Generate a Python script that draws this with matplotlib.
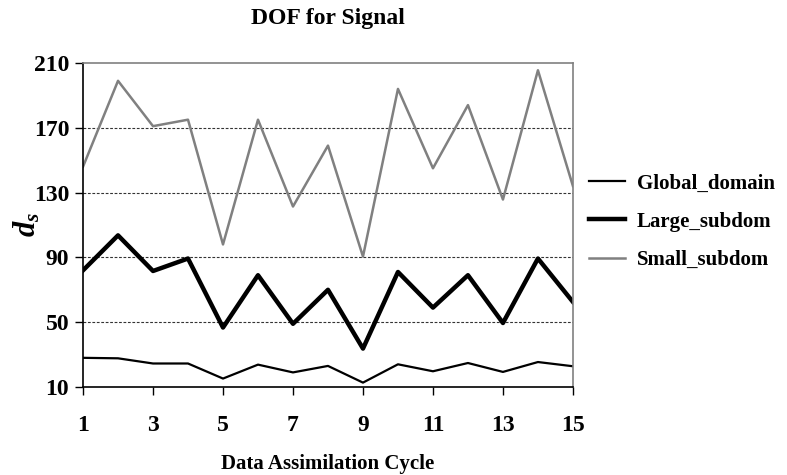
import matplotlib
matplotlib.use("Agg")
import matplotlib.pyplot as plt

plt.rcParams['font.family'] = ['Liberation Serif', 'DejaVu Serif']
plt.rcParams['font.weight'] = 'bold'
plt.rcParams['mathtext.fontset'] = 'custom'
plt.rcParams['mathtext.it'] = 'Liberation Serif:italic:bold'
plt.rcParams['mathtext.rm'] = 'Liberation Serif:bold'

cycles = list(range(1, 16))
global_domain = [28, 27.7, 24.5, 24.5, 15.2, 23.8, 19, 23, 12.7, 24, 19.7, 24.8, 19.3, 25.4, 22.8]
large_subdom = [82, 103.6, 81.6, 89.3, 46.7, 79, 49, 70, 33.7, 81, 59, 79, 49.5, 89.3, 62.5]
small_subdom = [146, 199, 171, 175, 98, 175, 121.4, 159, 90.5, 194, 145, 184, 125.7, 205.5, 134]

fig = plt.figure(figsize=(7.87, 4.75), dpi=100)
ax = fig.add_axes([0.1055, 0.1853, 0.6225, 0.6821])

ax.plot(cycles, global_domain, color='black', lw=1.6, label='Global_domain')
ax.plot(cycles, large_subdom, color='black', lw=3.2, label='Large_subdom')
ax.plot(cycles, small_subdom, color='#808080', lw=1.8, label='Small_subdom')

ax.set_xlim(1, 15)
ax.set_ylim(10, 210)
ax.set_xticks(range(1, 16, 2))
ax.set_yticks(range(10, 211, 40))
# dotted horizontal guides between the limits
for y in range(50, 210, 40):
    ax.axhline(y, color='#333333', lw=0.8, ls=(0, (2.5, 1.5)), zorder=0)

for side in ('top', 'right'):
    ax.spines[side].set_color('#808080')
    ax.spines[side].set_linewidth(1.2)
for side in ('left', 'bottom'):
    ax.spines[side].set_color('black')
    ax.spines[side].set_linewidth(1.2)

ax.tick_params(axis='x', direction='out', length=6, width=1, pad=14, labelsize=17)
ax.tick_params(axis='y', direction='out', length=6, width=1, pad=4, labelsize=17)
for lbl in ax.get_xticklabels() + ax.get_yticklabels():
    lbl.set_fontweight('bold')

ax.set_title('DOF for Signal', fontsize=17, fontweight='bold', pad=28)
ax.set_xlabel('Data Assimilation Cycle', fontsize=15, fontweight='bold', labelpad=13)
ax.set_ylabel(r'$d_s$', fontsize=22)
ax.yaxis.set_label_coords(-0.082, 0.5)

ax.legend(loc='center left', bbox_to_anchor=(1.016, 0.51), frameon=False,
          prop={'size': 15, 'weight': 'bold'}, handlelength=1.73,
          labelspacing=0.88, handletextpad=0.56, borderaxespad=0)

fig.savefig('out.png', dpi=100)
